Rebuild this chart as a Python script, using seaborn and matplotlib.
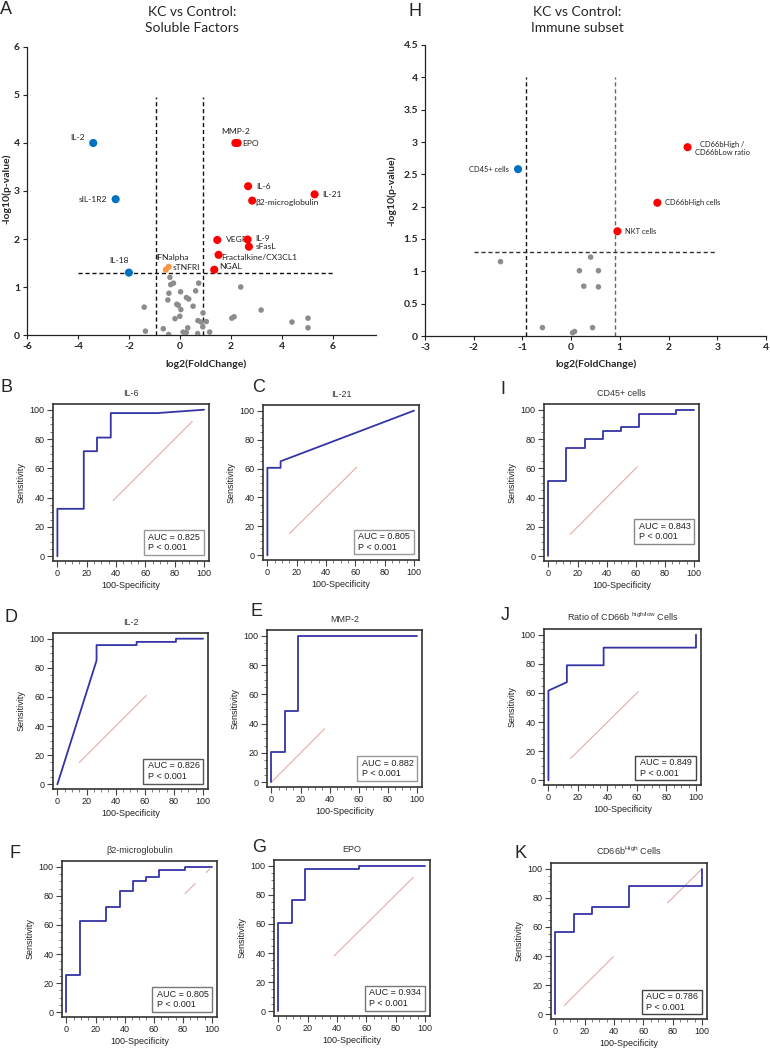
import numpy as np
import pandas as pd
import seaborn as sns
import matplotlib.pyplot as plt
from matplotlib.patches import Rectangle
from matplotlib.ticker import MultipleLocator, FuncFormatter

W, H = 770, 1049

# ---------------- panel A: soluble factors ----------------
sf_names = ['IL-2', 'sIL-1R2', 'IL-18', 'IFNalpha', 'sTNFRI', 'MMP-2', 'EPO', 'IL-6',
            'IL-21', 'β2-microglobulin', 'VEGF', 'IL-9', 'sFasL', 'Fractalkine/CX3CL1', 'NGAL']
sf_fc = [-3.40, -2.52, -2.00, -0.44, -0.55, 2.18, 2.27, 2.68, 5.29, 2.84, 1.47, 2.66, 2.71, 1.52, 1.35]
sf_p = [4.00, 2.83, 1.30, 1.42, 1.36, 4.00, 4.00, 3.10, 2.93, 2.80, 1.98, 1.99, 1.84, 1.67, 1.36]
sf_group = ['down', 'down', 'down', 'border', 'border', 'up', 'up', 'up', 'up', 'up',
            'up', 'up', 'up', 'up', 'up']
sf_ns_fc = [-0.39, -0.36, -0.25, 0.74, 2.39, -0.43, 0.03, 0.62, -0.47, 0.26, 0.35, -0.12, -0.06,
            0.04, 0.52, -1.40, 0.91, 0.00, -0.19, 0.71, 0.84, 1.04, 2.04, 2.13, 3.19, 4.40, 5.03,
            5.03, 0.90, 0.31, -0.65, -1.35, 0.13, 0.25, 1.17, 0.70, -0.44]
sf_ns_p = [1.20, 1.05, 1.08, 1.08, 1.00, 0.87, 0.90, 0.92, 0.73, 0.78, 0.75, 0.64, 0.62,
           0.53, 0.60, 0.58, 0.46, 0.39, 0.34, 0.30, 0.27, 0.28, 0.35, 0.38, 0.52, 0.27, 0.35,
           0.15, 0.17, 0.15, 0.13, 0.08, 0.06, 0.05, 0.06, 0.03, 0.01]

# ---------------- panel H: immune subset ----------------
im_names = ['CD45+ cells', 'CD66bHigh /\nCD66bLow ratio', 'CD66bHigh cells', 'NKT cells']
im_fc = [-1.09, 2.39, 1.77, 0.95]
im_p = [2.58, 2.92, 2.06, 1.62]
im_group = ['down', 'up', 'up', 'up']
im_ns_fc = [-1.45, 0.40, 0.17, 0.56, 0.26, 0.56, -0.59, 0.44, 0.07, 0.03]
im_ns_p = [1.15, 1.22, 1.01, 1.01, 0.77, 0.76, 0.13, 0.13, 0.07, 0.05]

# ---------------- ROC curves ----------------
il6_x = [0, 0, 18, 18, 27, 27, 36.4, 36.4, 68, 100]
il6_y = [0, 32.4, 32.4, 71.7, 71.7, 81, 81, 97.7, 97.7, 100]
il21_x = [0, 0, 9, 9, 100]
il21_y = [0, 60.5, 60.5, 65, 100]
il2_x = [0, 26.9, 26.9, 54.4, 54.4, 81.4, 81.4, 100]
il2_y = [0, 85, 95.6, 95.6, 97.8, 97.8, 100, 100]
mmp2_x = [0, 0, 9.2, 9.2, 18.2, 18.2, 100]
mmp2_y = [0, 21, 21, 48.6, 48.6, 100, 100]
b2m_x = [0, 0, 9.1, 9.1, 27.2, 27.2, 36.5, 36.5, 45.4, 45.4, 54.6, 54.6, 63.5, 63.5, 81.7, 81.7, 100]
b2m_y = [0, 25.5, 25.5, 62.5, 62.5, 72, 72, 83.6, 83.6, 90.5, 90.5, 92.7, 92.7, 97.7, 97.7, 100, 100]
epo_x = [0, 0, 9, 9, 18, 18, 55, 55, 100]
epo_y = [0, 60.4, 60.4, 76.5, 76.5, 97.5, 97.5, 100, 100]
cd45_x = [0, 0, 12.4, 12.4, 24.9, 24.9, 37.4, 37.4, 49.9, 49.9, 62.4, 62.4, 87.5, 87.5, 100]
cd45_y = [0, 51.3, 51.3, 74, 74, 79.7, 79.7, 85.8, 85.8, 88.4, 88.4, 97, 97, 100, 100]
ratio_x = [0, 0, 12.5, 12.5, 37.4, 37.4, 100, 100]
ratio_y = [0, 61.6, 67.4, 79, 79, 91.1, 91.1, 100]
cd66_x = [0, 0, 12.4, 12.4, 25.1, 25.1, 50, 50, 100, 100]
cd66_y = [0, 56.5, 56.5, 68.6, 68.6, 73.6, 73.6, 88.2, 88.2, 100]

roc_titles = ['IL-6', 'IL-21', 'IL-2', 'MMP-2', 'β2-microglobulin', 'EPO', 'CD45+ cells',
              r'Ratio of CD66b $^{\mathregular{high/low}}$ Cells', r'CD66b$^{\mathregular{High}}$ Cells']
roc_letters = ['B', 'C', 'D', 'E', 'F', 'G', 'I', 'J', 'K']
roc_auc = ['0.825', '0.805', '0.826', '0.882', '0.805', '0.934', '0.843', '0.849', '0.786']
roc_diag = [[(38, 92)], [(15, 61)], [(15, 61)], [(0, 36.5)], [(81.5, 88.5), (96, 98.5)],
            [(38, 92)], [(15, 61)], [(15, 61)], [(6, 39.5), (76.5, 99.3)]]
roc_x = [il6_x, il21_x, il2_x, mmp2_x, b2m_x, epo_x, cd45_x, ratio_x, cd66_x]
roc_y = [il6_y, il21_y, il2_y, mmp2_y, b2m_y, epo_y, cd45_y, ratio_y, cd66_y]

# layout (pixels): frame box and letter centre for each ROC panel
roc_box = [(53, 404, 209, 561), (263, 405, 419, 560), (53, 633, 208, 789), (267, 630, 422, 787),
           (62, 861, 217, 1017), (274, 860, 430, 1016), (544, 404, 699, 561), (544, 629, 701, 785),
           (551, 863, 707, 1019)]
roc_letter_xy = [(7, 388), (259, 388), (11, 618), (257, 612), (15, 854), (259, 847),
                 (503, 389), (505, 615), (521, 853)]
roc_auc_y0 = [0.7, 0.7, 0.5, 0.7, 0.2, 0.5, 8.2, 0.0, 0.0]
roc_box_edge = ['#999', '#999', '#555', '#999', '#777', '#777', '#888', '#444', '#444']

sns.set_style('ticks')
plt.rcParams['font.family'] = ['Liberation Sans', 'DejaVu Sans']
plt.rcParams['axes.unicode_minus'] = False

VOLC_FONT = ['Lato', 'DejaVu Sans']
RED, BLUE, ORANGE, GREY = '#FF0000', '#0070C0', '#F79646', '#8C8C8C'

fig = plt.figure(figsize=(W / 100, H / 100), dpi=100)


def px_axes(left, top, right, bottom):
    return fig.add_axes([left / W, 1 - bottom / H, (right - left) / W, (bottom - top) / H])


def fig_text(x, y, s, **kw):
    fig.text(x / W, 1 - y / H, s, **kw)


def volcano(ax, fc, p, grp, names, ns_fc, ns_p, offsets, lab_size):
    ns = pd.DataFrame({'fc': ns_fc, 'p': ns_p})
    sig = pd.DataFrame({'fc': fc, 'p': p, 'grp': grp, 'name': names})
    sns.scatterplot(data=ns, x='fc', y='p', color=GREY, s=16, edgecolor='none', ax=ax, zorder=3)
    big = sig[sig.grp != 'border']
    sns.scatterplot(data=big, x='fc', y='p', hue='grp', palette={'up': RED, 'down': BLUE},
                    s=34, edgecolor='none', legend=False, ax=ax, zorder=4)
    small = sig[sig.grp == 'border']
    sns.scatterplot(data=small, x='fc', y='p', color=ORANGE, s=20, edgecolor='none',
                    legend=False, ax=ax, zorder=4)
    for _, r in sig.iterrows():
        dx, dy, ha = offsets[r['name']]
        ax.annotate(r['name'], (r.fc, r.p), xytext=(dx, dy), textcoords='offset pixels',
                    ha=ha, va='center', fontsize=lab_size, family=VOLC_FONT, color='#222',
                    multialignment='center')
    for s in ['top', 'right']:
        ax.spines[s].set_visible(False)
    for s in ['left', 'bottom']:
        ax.spines[s].set_color('#222')
        ax.spines[s].set_linewidth(0.9)
    ax.tick_params(length=3, width=0.8, labelsize=7.5, color='#222', pad=2)
    ax.set_xlabel('')
    ax.set_ylabel('')
    for lbl in ax.get_xticklabels() + ax.get_yticklabels():
        lbl.set_fontweight('bold')
        lbl.set_family(VOLC_FONT)


# ----- panel A -----
axA = px_axes(27, 47, 376, 335)
sf_off = {'IL-2': (-8, 6, 'right'), 'sIL-1R2': (-9, 0, 'right'), 'IL-18': (-10, 12, 'center'),
          'IFNalpha': (3, 9, 'center'), 'sTNFRI': (7, 2, 'left'), 'MMP-2': (0, 12, 'center'),
          'EPO': (5, 0, 'left'), 'IL-6': (8, 0, 'left'), 'IL-21': (8, 0, 'left'),
          'β2-microglobulin': (3, -2, 'left'), 'VEGF': (9, 0, 'left'), 'IL-9': (8, 1, 'left'),
          'sFasL': (7, 0, 'left'), 'Fractalkine/CX3CL1': (3, -3, 'left'), 'NGAL': (5, 3, 'left')}
axA.set_xlim(-6, 7.7)
axA.set_ylim(0, 6)
axA.set_xticks(range(-6, 7, 2))
axA.set_yticks(range(0, 7))
axA.vlines([-0.94, 0.91], 0, 4.96, colors='#111', linestyles=(0, (3, 2)), lw=1.0, zorder=2)
axA.hlines(1.3, -4, 6, colors='#111', linestyles=(0, (3, 2)), lw=1.0, zorder=2)
volcano(axA, sf_fc, sf_p, sf_group, sf_names, sf_ns_fc, sf_ns_p, sf_off, 6.1)

# ----- panel H -----
axH = px_axes(425, 45, 766, 336)
im_off = {'CD45+ cells': (-9, 0, 'right'), 'CD66bHigh /\nCD66bLow ratio': (35, -1, 'center'),
          'CD66bHigh cells': (8, 0, 'left'), 'NKT cells': (8, 0, 'left')}
axH.set_xlim(-3, 4)
axH.set_ylim(0, 4.5)
axH.set_xticks(range(-3, 5))
axH.set_yticks(np.arange(0, 4.51, 0.5))
axH.yaxis.set_major_formatter(FuncFormatter(lambda v, _: f'{v:g}'))
axH.vlines(-0.92, 0, 4.0, colors='#111', linestyles=(0, (3, 2)), lw=1.0, zorder=2)
axH.vlines(0.91, 0, 4.0, colors='#666', linestyles=(0, (3, 2)), lw=1.0, zorder=2)
axH.hlines(1.3, -2, 3, colors='#333', linestyles=(0, (3, 2)), lw=1.0, zorder=2)
volcano(axH, im_fc, im_p, im_group, im_names, im_ns_fc, im_ns_p, im_off, 5.4)

# volcano titles, labels, letters
fig_text(192, 20, 'KC vs Control:\nSoluble Factors', ha='center', va='center', fontsize=10,
         family=VOLC_FONT, linespacing=1.35)
fig_text(577, 20, 'KC vs Control:\nImmune subset', ha='center', va='center', fontsize=10,
         family=VOLC_FONT, linespacing=1.35)
fig_text(206, 364, 'log2(FoldChange)', ha='center', va='center', fontsize=7.5,
         fontweight='bold', family=VOLC_FONT)
fig_text(596, 364, 'log2(FoldChange)', ha='center', va='center', fontsize=7.5,
         fontweight='bold', family=VOLC_FONT)
fig_text(7, 189, '-log10(p-value)', ha='center', va='center', rotation=90, fontsize=7.5,
         fontweight='bold', family=VOLC_FONT)
fig_text(392, 191, '-log10(p-value)', ha='center', va='center', rotation=90, fontsize=7.5,
         fontweight='bold', family=VOLC_FONT)
fig_text(6, 10, 'A', ha='center', va='center', fontsize=13)
fig_text(415, 11, 'H', ha='center', va='center', fontsize=13)

# ----- ROC panels -----
for i in range(len(roc_titles)):
    ax = px_axes(*roc_box[i])
    df = pd.DataFrame({'fpr': roc_x[i], 'tpr': roc_y[i]})
    for a, b in roc_diag[i]:
        ax.plot([a, b], [a, b], color='#E3A0A0', lw=0.7, zorder=1)
    sns.lineplot(data=df, x='fpr', y='tpr', sort=False, estimator=None, color='#3434A6',
                 lw=1.3, ax=ax, zorder=3)
    ax.set_xlim(-3, 103.4)
    ax.set_ylim(-3.2, 103.9)
    ax.xaxis.set_major_locator(MultipleLocator(20))
    ax.yaxis.set_major_locator(MultipleLocator(20))
    ax.xaxis.set_minor_locator(MultipleLocator(5))
    ax.yaxis.set_minor_locator(MultipleLocator(5))
    ax.tick_params(which='major', length=4, width=0.8, labelsize=6.5, color='#444',
                   labelcolor='#222', pad=2)
    ax.tick_params(which='minor', length=2, width=0.6, color='#666')
    for s in ax.spines.values():
        s.set_color('#333')
        s.set_linewidth(1.2)
    ax.set_xlabel('100-Specificity', fontsize=6.5, color='#222', labelpad=2)
    ax.set_ylabel('Sensitivity', fontsize=6.5, color='#222', labelpad=3)
    ax.set_title(roc_titles[i], fontsize=6.5, color='#333', pad=6)
    y0 = roc_auc_y0[i]
    ax.add_patch(Rectangle((59, y0), 41, 17, facecolor='white', edgecolor=roc_box_edge[i],
                           lw=1.0, zorder=4))
    ax.text(62, y0 + 12.3, f'AUC = {roc_auc[i]}', fontsize=6.5, va='center', color='#222',
            zorder=5)
    ax.text(62, y0 + 5.0, 'P < 0.001', fontsize=6.5, va='center', color='#222', zorder=5)
    lx, ly = roc_letter_xy[i]
    fig_text(lx, ly, roc_letters[i], ha='center', va='center', fontsize=13)

fig.savefig('out.png', dpi=100)
